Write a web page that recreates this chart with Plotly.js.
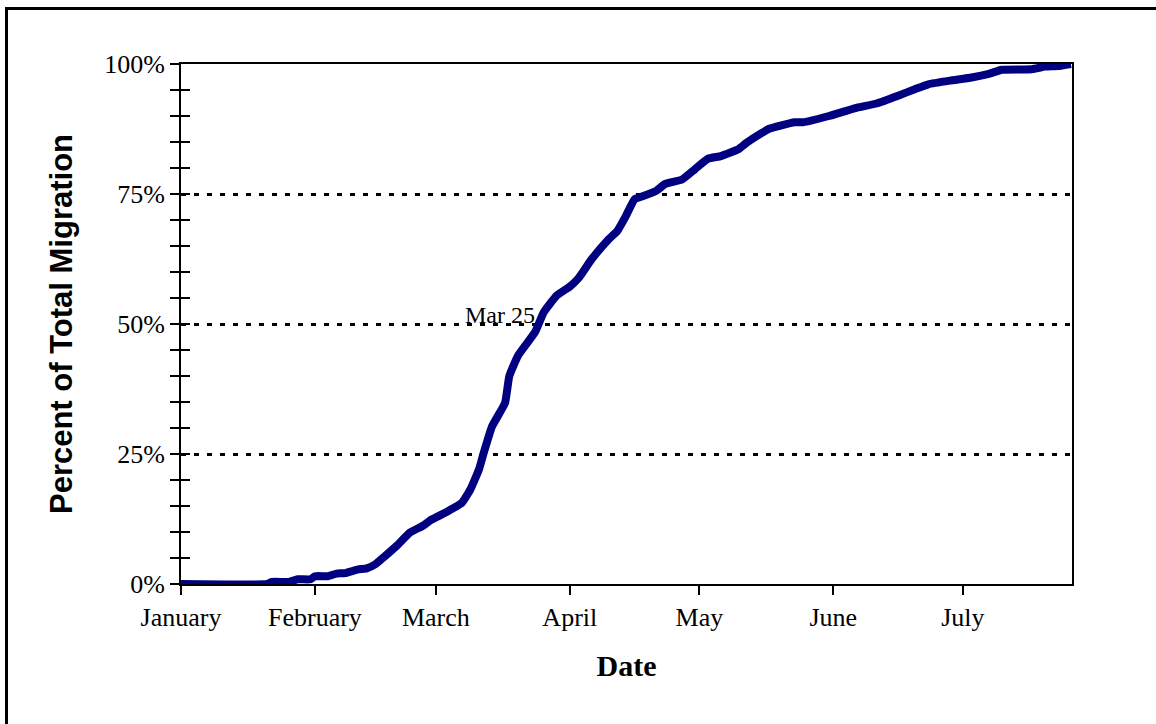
<!DOCTYPE html>
<html>
<head>
<meta charset="utf-8">
<script src="https://cdn.plot.ly/plotly-3.0.1.min.js"></script>
<style>
  html, body { margin: 0; padding: 0; background: #fff; }
  #wrap { position: relative; width: 1156px; height: 724px; overflow: hidden; }
  #chart { position: absolute; left: 0; top: 0; width: 1156px; height: 724px; }
  #frame { position: absolute; left: 5px; top: 7px; width: 1200px; height: 800px;
           border-left: 3px solid #000; border-top: 3px solid #000; pointer-events: none; }
</style>
</head>
<body>
<div id="wrap">
  <div id="chart"></div>
  <div id="frame"></div>
</div>
<script>
// Cumulative migration (% of total) by date
const dates = [
  '2001-01-01','2001-01-21','2001-01-22','2001-01-26','2001-01-28','2001-01-31',
  '2001-02-01','2001-02-04','2001-02-06','2001-02-08','2001-02-11','2001-02-13',
  '2001-02-15','2001-02-17','2001-02-20','2001-02-23','2001-02-26','2001-02-28',
  '2001-03-01','2001-03-04','2001-03-07','2001-03-09','2001-03-11','2001-03-12',
  '2001-03-14','2001-03-17','2001-03-18','2001-03-20','2001-03-22','2001-03-24',
  '2001-03-26','2001-03-29','2001-04-01','2001-04-03','2001-04-06','2001-04-10',
  '2001-04-12','2001-04-14','2001-04-16','2001-04-18','2001-04-21','2001-04-23',
  '2001-04-27','2001-04-30','2001-05-03','2001-05-06','2001-05-10','2001-05-12',
  '2001-05-15','2001-05-17','2001-05-23','2001-05-25','2001-05-31','2001-06-04',
  '2001-06-07','2001-06-11','2001-06-16','2001-06-20','2001-06-23','2001-06-28',
  '2001-07-03','2001-07-07','2001-07-10','2001-07-17','2001-07-20','2001-07-23',
  '2001-07-26'
];
const percentMigrated = [
  0, 0, 0.4, 0.4, 0.9, 0.9,
  1.5, 1.5, 2.0, 2.1, 2.8, 3.0,
  3.8, 5.2, 7.4, 9.9, 11.2, 12.4,
  12.8, 14.1, 15.6, 18.2, 22.1, 25.0,
  30.3, 34.8, 40.0, 43.9, 46.2, 48.5,
  52.3, 55.5, 57.2, 58.8, 62.4, 66.3,
  67.9, 70.8, 74.0, 74.6, 75.6, 76.9,
  77.8, 79.8, 81.8, 82.3, 83.6, 84.9,
  86.5, 87.5, 88.8, 88.8, 90.0, 91.0,
  91.7, 92.4, 93.9, 95.2, 96.1, 96.8,
  97.4, 98.1, 98.9, 99.0, 99.5, 99.6,
  100
];
const majorTickVals = [0, 25, 50, 75, 100];
const majorTickText = ['0%', '25%', '50%', '75%', '100%'];
const annotationDate = '2001-03-25';
const annotationValue = 50;
const annotationText = 'Mar 25';
const xRange = ['2001-01-01', '2001-07-26 06:00'];

const serif = 'Liberation Serif, Times New Roman, serif';
const sans = 'Liberation Sans, Arial, sans-serif';

const data = [{
  x: dates,
  y: percentMigrated,
  type: 'scatter',
  mode: 'lines',
  line: { color: '#000080', width: 8, shape: 'spline', smoothing: 0.4 },
  hoverinfo: 'skip',
  cliponaxis: false
}, {
  x: dates,
  y: percentMigrated,
  type: 'scatter',
  mode: 'lines',
  line: { color: 'rgba(0,0,0,0)', width: 0 },
  hoverinfo: 'skip',
  yaxis: 'y2',
  showlegend: false
}];

const layout = {
  width: 1156,
  height: 724,
  margin: { l: 181, r: 84, t: 64, b: 140 },
  paper_bgcolor: '#ffffff',
  plot_bgcolor: '#ffffff',
  showlegend: false,
  xaxis: {
    type: 'date',
    range: xRange,
    tick0: '2001-01-01',
    dtick: 'M1',
    tickformat: '%B',
    ticks: 'outside',
    ticklen: 9,
    tickwidth: 2,
    tickcolor: '#000',
    showline: true,
    linecolor: '#000',
    linewidth: 2,
    mirror: true,
    showgrid: false,
    zeroline: false,
    tickfont: { family: serif, size: 26, color: '#000' },
    title: { text: '<b>Date</b>', font: { family: serif, size: 30, color: '#000' }, standoff: 24 },
    automargin: false,
    fixedrange: true
  },
  yaxis: {
    range: [0, 100],
    tickvals: majorTickVals,
    ticktext: majorTickText,
    ticks: 'outside',
    ticklen: 9,
    tickwidth: 2,
    tickcolor: '#000',
    minor: { dtick: 5, ticks: 'outside', ticklen: 9, tickwidth: 2, tickcolor: '#000', showgrid: false },
    showline: true,
    linecolor: '#000',
    linewidth: 2,
    mirror: true,
    showgrid: true,
    gridcolor: '#000',
    gridwidth: 3,
    griddash: '5px,8px',
    zeroline: false,
    tickfont: { family: serif, size: 26, color: '#000' },
    title: { text: '<b>Percent of Total Migration</b>', font: { family: sans, size: 31, color: '#000' }, standoff: 22 },
    automargin: false,
    fixedrange: true
  },
  yaxis2: {
    overlaying: 'y',
    side: 'left',
    range: [0, 100],
    dtick: 5,
    ticks: 'inside',
    ticklen: 9,
    tickwidth: 2,
    tickcolor: '#000',
    showticklabels: false,
    showgrid: false,
    showline: false,
    zeroline: false,
    fixedrange: true
  },
  annotations: [{
    x: annotationDate,
    y: annotationValue,
    xref: 'x',
    yref: 'y',
    text: annotationText,
    showarrow: false,
    xanchor: 'right',
    yanchor: 'bottom',
    xshift: -3,
    yshift: -6,
    font: { family: serif, size: 24, color: '#000' }
  }]
};

Plotly.newPlot('chart', data, layout, { displayModeBar: false, staticPlot: true });
</script>
</body>
</html>
